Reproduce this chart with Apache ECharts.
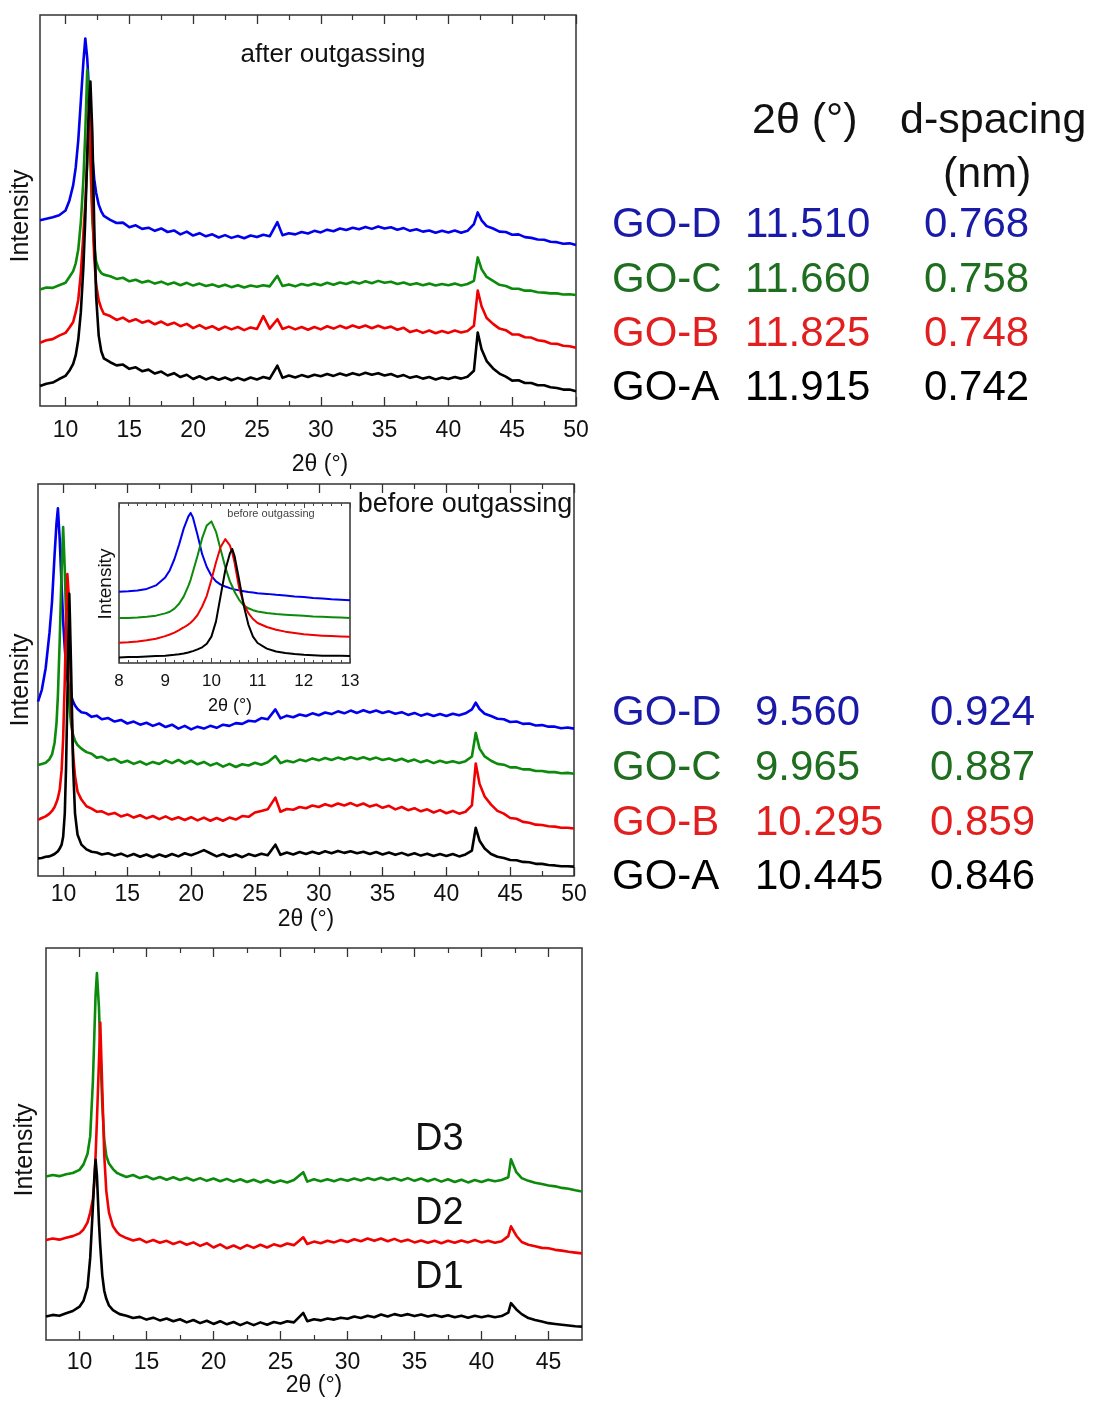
<!DOCTYPE html>
<html>
<head>
<meta charset="utf-8">
<script src="https://cdn.jsdelivr.net/npm/echarts@6/dist/echarts.min.js"></script>
<style>
html,body{margin:0;padding:0;background:#fff;}
#chart{width:1095px;height:1401px;}
</style>
</head>
<body>
<div id="chart"></div>
<script>
// ---------- Panel 1: after outgassing (2θ grid and relative intensities) ----------
const xsAfter = [8, 8.5, 9, 9.5, 10, 10.3, 10.6, 10.8, 11, 11.2, 11.4, 11.55, 11.7, 11.85, 11.95, 12.1, 12.25, 12.4, 12.6, 12.8, 13,
  13.5, 14, 14.5, 15, 15.5, 16, 16.5, 17, 17.5, 18, 18.5, 19, 19.5, 20, 20.5, 21, 21.5, 22, 22.5, 23, 23.5, 24, 24.5, 25, 25.5, 26,
  26.6,
  27, 27.5, 28, 28.5, 29, 29.5, 30, 30.5, 31, 31.5, 32, 32.5, 33, 33.5, 34, 34.5, 35, 35.5, 36, 36.5, 37, 37.5, 38, 38.5, 39, 39.5, 40, 40.5, 41, 41.5, 42,
  42.3, 42.6,
  43, 43.5, 44, 44.5, 45, 45.5, 46, 46.5, 47, 47.5, 48, 48.5, 49, 49.5, 50];
const goD_after = [47.5, 47.9, 48.3, 48.8, 50.0, 52.5, 56.5, 61, 68, 78, 88, 94, 89, 80, 73, 64, 58, 54.5, 51.5, 49.8, 48.6,
  47.6, 46.8, 46.9, 45.7, 46.2, 45.3, 45.6, 44.8, 45.4, 44.5, 44.9, 43.9, 44.6, 43.6, 44.2, 43.4, 43.9, 43.1, 43.7, 43.0, 43.5, 42.9, 43.6, 43.2, 43.8, 43.4,
  47,
  43.7, 44.2, 43.9, 44.5, 44.1, 44.8, 44.4, 45.1, 44.7, 45.4, 45.0, 45.6, 45.2, 45.8, 45.3, 45.9, 45.4, 45.7, 45.1, 45.5, 44.8, 45.2, 44.6, 44.9, 44.3, 44.8, 44.4, 44.9, 44.3, 44.8, 46.5,
  49.5, 47.5,
  46.0, 45.4, 44.6, 44.5, 43.8, 43.9, 43.2, 43.0, 42.6, 42.5, 42.0, 41.9, 41.5, 41.6, 41.2];
const goC_after = [29.8, 30.3, 30.2, 30.9, 31.5, 33, 34.5, 36.5, 40, 47, 58, 70, 86, 76, 62, 48, 41, 37, 35, 34, 33.6,
  33.2, 32.5, 32.8, 31.9, 32.3, 31.6, 32.0, 31.3, 31.8, 31.1, 31.6, 30.9, 31.5, 30.8, 31.3, 30.7, 31.1, 30.5, 31.0, 30.4, 30.9, 30.3, 30.8, 30.5, 30.9, 30.6,
  33.3,
  30.7, 31.1, 30.6, 31.2, 30.8, 31.3, 30.9, 31.5, 31.0, 31.6, 31.2, 31.8, 31.3, 31.9, 31.4, 32.0, 31.5, 31.8, 31.2, 31.6, 31.0, 31.4, 30.9, 31.3, 30.8, 31.2, 30.9, 31.3, 30.8, 31.2, 32.0,
  38, 35,
  33.0, 32.0, 31.0, 30.7, 30.0, 30.0, 29.5, 29.5, 29.1, 29.0, 28.8, 28.8, 28.5, 28.6, 28.4];
const goB_after = [16.2, 16.8, 17.1, 18.0, 18.7, 20, 21.5, 24, 27.2, 34, 44, 52, 62, 78, 70, 50, 38, 31, 27, 25, 23.6,
  23.0, 22.0, 22.6, 21.6, 22.2, 21.3, 21.8, 20.9, 21.6, 20.7, 21.3, 20.4, 21.0, 19.9, 20.7, 19.8, 20.4, 19.5, 20.3, 19.6, 20.2, 19.4, 20.1, 19.7, 23.0, 19.8,
  22.2,
  19.7, 20.3, 19.6, 20.2, 19.5, 20.2, 19.6, 20.4, 19.8, 20.5, 19.9, 20.6, 20.0, 20.6, 19.9, 20.5, 19.9, 20.3, 19.5, 20.0, 18.9, 19.4, 18.7, 19.3, 18.6, 19.2, 18.7, 19.3, 18.8, 19.2, 20.5,
  29.5, 25.5,
  22.5, 21.0, 19.8, 19.4, 18.3, 18.3, 17.6, 17.5, 16.8, 16.6, 16.0, 15.9, 15.4, 15.3, 14.9];
const goA_after = [5.1, 5.7, 6.0, 6.9, 7.7, 9, 10.8, 13, 17, 24, 35.5, 48, 64, 78, 83, 70, 46, 28, 18, 14, 12.2,
  11.2, 10.4, 10.6, 9.5, 9.9, 8.9, 9.3, 8.3, 8.8, 7.8, 8.4, 7.4, 8.0, 6.9, 7.6, 6.8, 7.4, 6.7, 7.3, 6.6, 7.2, 6.6, 7.3, 6.8, 7.4, 7.0,
  10.3,
  7.2, 7.8, 7.3, 7.9, 7.4, 8.0, 7.6, 8.2, 7.7, 8.3, 7.8, 8.4, 7.9, 8.5, 8.0, 8.4, 7.8, 8.2, 7.5, 7.9, 7.2, 7.6, 7.0, 7.4, 6.8, 7.3, 6.9, 7.4, 7.0, 7.5, 9.0,
  18.8, 14.5,
  11.5, 9.6, 8.3, 7.5, 6.5, 6.6, 5.9, 5.9, 5.3, 5.3, 4.8, 4.6, 4.2, 4.2, 3.8];

// ---------- Panel 2: before outgassing ----------
const xsBefore = [8, 8.3, 8.6, 8.9, 9.1, 9.3, 9.45, 9.56, 9.7, 9.85, 9.97, 10.1, 10.2, 10.3, 10.4, 10.45, 10.5, 10.6, 10.75, 10.9, 11.1, 11.4, 11.8, 12.2, 12.6, 13,
  13.5, 14, 14.5, 15, 15.5, 16, 16.5, 17, 17.5, 18, 18.5, 19, 19.5, 20, 20.5, 21, 21.5, 22, 22.5, 23, 23.5, 24, 24.5, 25, 25.5, 26,
  26.6,
  27, 27.5, 28, 28.5, 29, 29.5, 30, 30.5, 31, 31.5, 32, 32.5, 33, 33.5, 34, 34.5, 35, 35.5, 36, 36.5, 37, 37.5, 38, 38.5, 39, 39.5, 40, 40.5, 41, 41.5, 42,
  42.3, 42.6,
  43, 43.5, 44, 44.5, 45, 45.5, 46, 46.5, 47, 47.5, 48, 48.5, 49, 49.5, 50];
const goD_before = [44.5, 47.5, 53, 62, 70, 82, 90, 93.8, 86, 74, 65, 58, 54, 50.5, 48.5, 47.7, 47, 46, 44.5, 43.5, 42.6, 41.8, 41.5, 40.6, 40.9, 40.0,
  40.3, 39.4, 39.8, 38.9, 39.4, 38.6, 39.1, 38.3, 38.9, 38.0, 38.6, 37.6, 38.3, 37.4, 38.1, 37.6, 38.3, 37.8, 38.6, 38.3, 39.0, 38.8, 39.6, 39.4, 40.3, 40.0,
  42.5,
  40.2, 40.9, 40.5, 41.2, 40.8, 41.5, 41.0, 41.7, 41.3, 42.0, 41.5, 42.2, 41.6, 42.3, 41.7, 42.2, 41.6, 42.0, 41.4, 41.8, 41.1, 41.6, 40.9, 41.4, 40.8, 41.3, 40.8, 41.4, 41.0, 41.5, 42.5,
  44.2, 42.6,
  41.4, 40.8, 40.1, 40.0, 39.3, 39.4, 38.8, 38.9, 38.4, 38.5, 38.1, 38.1, 37.7, 37.9, 37.6];
const goC_before = [28.3, 28.6, 28.9, 29.8, 31, 34, 39, 46, 60, 78, 89, 78, 66, 55, 47, 44.5, 42, 38.5, 36, 34.5, 33.4, 32.5, 31.6, 31.2, 30.2, 30.4,
  29.5, 29.9, 28.9, 29.4, 28.6, 29.2, 28.4, 29.1, 28.6, 29.5, 28.8, 29.6, 28.7, 29.4, 28.5, 29.1, 28.2, 28.8, 27.9, 28.6, 27.8, 28.5, 28.2, 28.9, 28.4, 29.0,
  30.6,
  28.8, 29.4, 29.0, 29.7, 29.3, 30.0, 29.5, 30.1, 29.6, 30.2, 29.7, 30.3, 29.8, 30.3, 29.7, 30.2, 29.6, 30.0, 29.4, 29.9, 29.2, 29.7, 29.0, 29.5, 28.8, 29.4, 28.9, 29.3, 28.8, 29.3, 30.5,
  36.5, 32.5,
  30.5, 29.4, 28.6, 28.4, 27.7, 27.7, 27.2, 27.2, 26.8, 26.8, 26.5, 26.5, 26.2, 26.3, 26.1];
const goB_before = [14.3, 14.8, 15.2, 15.9, 16.6, 17.6, 18.8, 19.9, 22, 27, 35, 50, 65, 77, 72, 65, 58, 44, 31, 25.5, 21.5, 19.5, 17.8, 17.2, 16.4, 16.5,
  15.7, 16.1, 15.2, 15.7, 14.9, 15.5, 14.7, 15.3, 14.5, 15.2, 14.4, 15.0, 14.3, 15.0, 14.2, 14.9, 14.1, 14.8, 14.1, 14.9, 14.4, 15.3, 15.1, 16.2, 16.6, 17.0,
  20.0,
  16.4, 17.1, 16.9, 17.6, 17.3, 18.0, 17.6, 18.3, 17.8, 18.5, 18.0, 18.6, 17.9, 18.5, 17.7, 18.2, 17.4, 17.9, 17.0, 17.6, 16.8, 17.3, 16.5, 17.0, 16.2, 16.8, 16.0, 16.6, 15.9, 16.4, 18.0,
  28.7, 23.5,
  20.3, 18.2, 16.6, 15.9, 14.8, 14.6, 13.8, 13.6, 13.1, 13.0, 12.7, 12.6, 12.3, 12.3, 12.1];
const goA_before = [4.5, 4.6, 4.9, 5.0, 5.3, 5.6, 6.0, 6.3, 7.0, 8.0, 10, 16, 28, 45, 62, 72, 66, 52, 28, 16, 10.5, 8, 6.8, 6.2, 6.0, 5.5,
  5.8, 5.2, 5.7, 5.0, 5.6, 4.9, 5.5, 4.8, 5.5, 4.9, 5.6, 5.0, 5.8, 5.3, 5.9, 6.6, 5.8, 5.0, 5.6, 4.9, 5.5, 4.8, 5.6, 5.1, 5.7, 5.3,
  8.0,
  5.4, 6.0, 5.5, 6.1, 5.6, 6.2, 5.7, 6.3, 5.8, 6.4, 5.9, 6.3, 5.8, 6.2, 5.6, 6.1, 5.5, 6.0, 5.4, 5.9, 5.3, 5.8, 5.2, 5.7, 5.1, 5.6, 5.1, 5.6, 5.0, 5.5, 6.5,
  12.3, 9.0,
  7.0, 5.6, 4.9, 4.6, 4.1, 4.0, 3.6, 3.5, 3.1, 3.1, 2.8, 2.7, 2.5, 2.5, 2.4];

// ---------- Inset: before outgassing, 8-13° ----------
const xsInset = [8, 8.2, 8.4, 8.6, 8.8, 9, 9.1, 9.2, 9.3, 9.4, 9.5, 9.55, 9.6, 9.7, 9.8, 9.9, 10, 10.1, 10.2, 10.3, 10.4, 10.45, 10.5, 10.6, 10.7, 10.8, 10.9, 11, 11.2, 11.4, 11.6, 11.8, 12, 12.2, 12.4, 12.6, 12.8, 13];
const goD_inset = [44.6, 44.8, 45.3, 46.3, 48.5, 53.5, 58, 65, 74, 84, 91.5, 93.8, 91, 80, 68, 60, 54.5, 51, 49, 47.8, 46.8, 46.4, 46, 45.4, 44.9, 44.4, 44.1, 43.6, 43.2, 42.6, 42.2, 41.6, 41.2, 40.6, 40.3, 39.8, 39.6, 39.2];
const goC_inset = [28.1, 28.2, 28.4, 28.9, 29.6, 31, 32, 34, 37, 41.5, 48, 52, 57, 67, 78, 86, 88.5, 82, 71, 60, 51, 48, 44.5, 39.5, 36, 34.2, 33, 32.2, 31.3, 30.6, 30.2, 29.8, 29.5, 29.1, 28.9, 28.6, 28.4, 28.2];
const goB_inset = [12.7, 13, 13.5, 14.2, 15.2, 16.8, 17.8, 19, 20.5, 22.2, 24, 25.2, 26.5, 30, 35.3, 42, 52, 63, 72.5, 77.4, 73.5, 69, 63, 47, 37, 31.2, 27.5, 25, 22.5, 20.8, 19.6, 18.8, 18, 17.5, 17.1, 16.8, 16.6, 16.4];
const goA_inset = [3.5, 3.7, 3.8, 4.0, 4.3, 4.5, 4.8, 5.1, 5.5, 6.0, 6.6, 7.0, 7.4, 8.5, 9.8, 12, 16.5, 26, 42, 58, 68.5, 71.3, 67, 52, 36, 24, 16.5, 12.5, 9, 7.2, 6.3, 5.6, 5.1, 4.8, 4.6, 4.5, 4.5, 4.4];

// ---------- Panel 3: D1, D2, D3 ----------
const xsD = [7.5, 8, 8.5, 9, 9.5, 10, 10.3, 10.6, 10.8, 11.0, 11.1, 11.2, 11.3, 11.45, 11.55, 11.7, 11.85, 12.0, 12.2, 12.5, 12.8, 13.0,
  13.5, 14, 14.5, 15, 15.5, 16, 16.5, 17, 17.5, 18, 18.5, 19, 19.5, 20, 20.5, 21, 21.5, 22, 22.5, 23, 23.5, 24, 24.5, 25, 25.5, 26,
  26.7,
  27, 27.5, 28, 28.5, 29, 29.5, 30, 30.5, 31, 31.5, 32, 32.5, 33, 33.5, 34, 34.5, 35, 35.5, 36, 36.5, 37, 37.5, 38, 38.5, 39, 39.5, 40, 40.5, 41, 41.5, 42,
  42.2, 42.6,
  43, 43.5, 44, 44.5, 45, 45.5, 46, 46.5, 47, 47.5];
const d3 = [41.7, 42.1, 41.8, 42.3, 42.6, 43.4, 44.8, 47.5, 52, 66, 77, 88, 93.6, 85, 74, 60, 51, 47, 45, 43.6, 42.6, 42.3,
  41.6, 42.1, 41.3, 41.8, 41.0, 41.6, 40.9, 41.5, 40.8, 41.4, 40.7, 41.3, 40.6, 41.2, 40.5, 41.1, 40.4, 41.0, 40.3, 40.9, 40.2, 40.8, 40.1, 40.7, 40.2, 40.8,
  42.8,
  40.4, 41.0, 40.5, 41.0, 40.5, 41.1, 40.6, 41.2, 40.7, 41.3, 40.8, 41.4, 40.8, 41.3, 40.7, 41.3, 40.6, 41.2, 40.5, 41.1, 40.4, 41.0, 40.3, 40.9, 40.2, 40.8, 40.3, 40.9, 40.5, 40.8, 41.5,
  46.1, 42.8,
  41.3, 40.6, 40.1, 39.8, 39.4, 39.2, 38.8, 38.6, 38.2, 37.9];
const d2 = [25.5, 25.9, 25.6, 26.1, 26.5, 27.2, 28.2, 30, 32.5, 36, 40, 47, 56, 71, 81, 64, 47, 38, 32.5, 29, 27.5, 26.8,
  26.0, 25.4, 25.8, 24.9, 25.5, 24.8, 25.3, 24.5, 25.1, 24.3, 24.9, 24.0, 24.7, 23.6, 24.4, 23.4, 24.1, 23.3, 24.2, 23.5, 24.3, 23.6, 24.4, 23.9, 24.6, 24.2,
  26.2,
  24.5, 25.1, 24.7, 25.3, 24.9, 25.5, 25.0, 25.7, 25.2, 25.9, 25.3, 25.9, 25.2, 25.8, 25.1, 25.6, 24.9, 25.4, 24.8, 25.3, 24.7, 25.3, 24.8, 25.4, 24.9, 25.5, 24.9, 25.3, 24.8, 25.2, 26.5,
  29.0, 26.6,
  25.0, 24.3, 23.9, 23.5, 23.4, 23.0, 22.8, 22.5, 22.3, 22.1];
const d1 = [6.0, 6.4, 6.2, 6.8, 7.4, 8.5, 10, 13.5, 21, 34, 41, 46, 42, 30, 24, 16.5, 12.5, 10.5, 8.8, 7.6, 7.0, 6.6,
  6.2, 5.6, 5.9, 5.2, 5.7, 5.0, 5.5, 4.8, 5.3, 4.5, 5.1, 4.3, 4.9, 4.1, 4.8, 4.0, 4.6, 3.8, 4.5, 3.8, 4.5, 3.9, 4.6, 4.2, 4.8, 4.5,
  6.9,
  4.8, 5.3, 5.0, 5.5, 5.2, 5.7, 5.4, 6.0, 5.6, 6.2, 5.8, 6.5, 6.0, 6.6, 6.2, 6.6, 6.1, 6.5, 6.0, 6.4, 5.9, 6.3, 5.8, 6.2, 5.7, 6.2, 5.8, 6.2, 5.8, 6.1, 7.0,
  9.4, 7.8,
  6.6, 5.6, 5.1, 4.7, 4.3, 4.1, 3.9, 3.7, 3.5, 3.4];

// ---------- Tick labels ----------
const ticksMain = [10, 15, 20, 25, 30, 35, 40, 45, 50];
const ticksMainMinor = [12.5, 17.5, 22.5, 27.5, 32.5, 37.5, 42.5, 47.5];
const ticksD = [10, 15, 20, 25, 30, 35, 40, 45];
const ticksDMinor = [12.5, 17.5, 22.5, 27.5, 32.5, 37.5, 42.5];

// ---------- Tables ----------
const samples = ['GO-D', 'GO-C', 'GO-B', 'GO-A'];
const twoThetaAfter = ['11.510', '11.660', '11.825', '11.915'];
const dAfter = ['0.768', '0.758', '0.748', '0.742'];
const twoThetaBefore = ['9.560', '9.965', '10.295', '10.445'];
const dBefore = ['0.924', '0.887', '0.859', '0.846'];
const dLabels = ['D3', 'D2', 'D1'];

// ---------- Styling ----------
const FONT = '"Liberation Sans", Arial, Helvetica, sans-serif';
const LINE = { D: '#0000ee', C: '#0b8a0b', B: '#f00000', A: '#000000' };
const TEXTC = { D: '#1a1aa8', C: '#1f6e1f', B: '#e21e1e', A: '#000000' };

const chart = echarts.init(document.getElementById('chart'), null, { renderer: 'canvas' });

const grids = [
  { left: 40, top: 15, width: 536, height: 391 },
  { left: 38, top: 484, width: 536, height: 392 },
  { left: 46, top: 948, width: 536, height: 392 },
  { left: 119, top: 503, width: 231, height: 160 }
].map(g => Object.assign({ show: true, borderColor: '#333', borderWidth: 1.5, backgroundColor: '#fff', containLabel: false }, g));

function tickAxes(gi, min, max, majors, minors, fs, margin) {
  const base = {
    type: 'value', gridIndex: gi, min: min, max: max,
    axisLine: { show: false }, splitLine: { show: false }
  };
  const lab = { show: true, customValues: majors, fontSize: fs, color: '#111', fontFamily: FONT, margin: margin };
  return [
    Object.assign({}, base, { position: 'bottom', axisTick: { show: true, inside: true, length: 9, customValues: majors, lineStyle: { color: '#333', width: 1.3 } }, axisLabel: lab }),
    Object.assign({}, base, { position: 'bottom', axisTick: { show: true, inside: true, length: 5, customValues: minors, lineStyle: { color: '#333', width: 1.2 } }, axisLabel: { show: false } }),
    Object.assign({}, base, { position: 'top', axisTick: { show: true, inside: true, length: 9, customValues: majors, lineStyle: { color: '#333', width: 1.3 } }, axisLabel: { show: false } }),
    Object.assign({}, base, { position: 'top', axisTick: { show: true, inside: true, length: 5, customValues: minors, lineStyle: { color: '#333', width: 1.2 } }, axisLabel: { show: false } })
  ];
}

const xAxes = [].concat(
  tickAxes(0, 8, 50, ticksMain, ticksMainMinor, 23, 13),
  tickAxes(1, 8, 50, ticksMain, ticksMainMinor, 23, 7),
  tickAxes(2, 7.5, 47.5, ticksD, ticksDMinor, 23, 11),
  [
    { type: 'value', gridIndex: 3, min: 8, max: 13, interval: 1, position: 'bottom',
      axisLine: { show: false }, splitLine: { show: false },
      axisTick: { show: true, inside: true, length: 5, lineStyle: { color: '#444', width: 1 } },
      minorTick: { show: true, splitNumber: 5, length: 3, lineStyle: { color: '#444', width: 1 } },
      axisLabel: { show: true, fontSize: 17, color: '#111', fontFamily: FONT, margin: 10 } },
    { type: 'value', gridIndex: 3, min: 8, max: 13, interval: 1, position: 'top',
      axisLine: { show: false }, splitLine: { show: false },
      axisTick: { show: true, inside: true, length: 5, lineStyle: { color: '#444', width: 1 } },
      minorTick: { show: true, splitNumber: 5, length: 3, lineStyle: { color: '#444', width: 1 } },
      axisLabel: { show: false } }
  ]
);

const yAxes = [0, 1, 2, 3].map(gi => ({ type: 'value', gridIndex: gi, min: 0, max: 100, show: false }));

function pairs(xs, ys) { return xs.map((x, i) => [x, ys[i]]); }
function line(xs, ys, color, xi, yi, w) {
  return { type: 'line', xAxisIndex: xi, yAxisIndex: yi, data: pairs(xs, ys), symbol: 'none', showSymbol: false,
    lineStyle: { color: color, width: w, join: 'round' }, itemStyle: { color: color }, silent: true, animation: false, z: 2 };
}

const W = 2.6;
const series = [
  line(xsAfter, goD_after, LINE.D, 0, 0, W),
  line(xsAfter, goC_after, LINE.C, 0, 0, W),
  line(xsAfter, goB_after, LINE.B, 0, 0, W),
  line(xsAfter, goA_after, LINE.A, 0, 0, W),
  line(xsBefore, goD_before, LINE.D, 4, 1, W),
  line(xsBefore, goC_before, LINE.C, 4, 1, W),
  line(xsBefore, goB_before, LINE.B, 4, 1, W),
  line(xsBefore, goA_before, LINE.A, 4, 1, W),
  line(xsD, d3, LINE.C, 8, 2, W),
  line(xsD, d2, LINE.B, 8, 2, W),
  line(xsD, d1, LINE.A, 8, 2, W),
  line(xsInset, goD_inset, LINE.D, 12, 3, 2),
  line(xsInset, goC_inset, LINE.C, 12, 3, 2),
  line(xsInset, goB_inset, LINE.B, 12, 3, 2),
  line(xsInset, goA_inset, LINE.A, 12, 3, 2)
];

function txt(text, x, y, size, color, align, rot, extra) {
  const el = {
    type: 'text', x: x, y: y, rotation: rot || 0, z: 100,
    style: { text: text, font: size + 'px ' + FONT, fill: color || '#111',
      align: align || 'left', verticalAlign: 'middle', textAlign: align || 'left', textVerticalAlign: 'middle' }
  };
  return Object.assign(el, extra || {});
}

const g = [];
// panel texts
g.push(txt('after outgassing', 333, 55, 26, '#111', 'center'));
g.push(txt('before outgassing', 465, 505, 27, '#111', 'center'));
g.push(txt('before outgassing', 271, 514, 11, '#444', 'center'));
g.push(txt('2θ (°)', 320, 465, 23, '#111', 'center'));
g.push(txt('2θ (°)', 306, 920, 23, '#111', 'center'));
g.push(txt('2θ (°)', 314, 1386, 23, '#111', 'center'));
g.push(txt('2θ (°)', 230, 706, 18, '#111', 'center'));
g.push(txt('Intensity', 21, 216, 25, '#111', 'center', Math.PI / 2));
g.push(txt('Intensity', 21, 680, 25, '#111', 'center', Math.PI / 2));
g.push(txt('Intensity', 25, 1150, 25, '#111', 'center', Math.PI / 2));
g.push(txt('Intensity', 106, 584, 19, '#111', 'center', Math.PI / 2));
// D labels
const dY = [1140, 1214, 1278];
dLabels.forEach((t, i) => g.push(txt(t, 415, dY[i], 38, '#111', 'left')));
// tables
g.push(txt('2θ (°)', 752, 121, 43, '#111', 'left'));
g.push(txt('d-spacing', 900, 121, 43, '#111', 'left'));
g.push(txt('(nm)', 943, 175, 43, '#111', 'left'));
const keys = ['D', 'C', 'B', 'A'];
const rowsTop = [225, 280, 334, 388];
const rowsBot = [713, 768, 823, 877];
samples.forEach((s, i) => {
  const c = TEXTC[keys[i]];
  g.push(txt(s, 612, rowsTop[i], 42, c, 'left'));
  g.push(txt(twoThetaAfter[i], 745, rowsTop[i], 42, c, 'left'));
  g.push(txt(dAfter[i], 924, rowsTop[i], 42, c, 'left'));
  g.push(txt(s, 612, rowsBot[i], 42, c, 'left'));
  g.push(txt(twoThetaBefore[i], 755, rowsBot[i], 42, c, 'left'));
  g.push(txt(dBefore[i], 930, rowsBot[i], 42, c, 'left'));
});

chart.setOption({
  backgroundColor: '#ffffff',
  animation: false,
  grid: grids,
  xAxis: xAxes,
  yAxis: yAxes,
  series: series,
  graphic: { elements: g }
});
</script>
</body>
</html>
